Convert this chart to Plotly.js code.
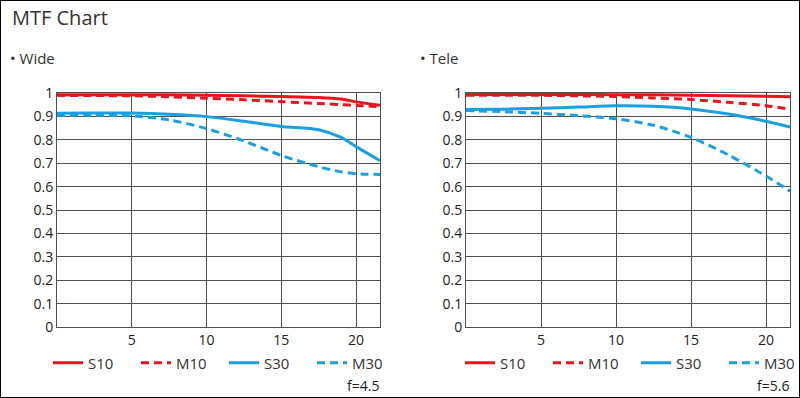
<!DOCTYPE html>
<html><head><meta charset="utf-8">
<script src="https://cdn.plot.ly/plotly-3.0.1.min.js"></script>
<style>html,body{margin:0;padding:0;background:#fff;overflow:hidden}#chart{width:800px;height:398px}</style>
</head><body><div id="chart"></div>
<script>
// Wide (f=4.5)
const wideX = [0, 2.5, 5, 7.5, 10, 12.5, 15, 17.5, 19, 20, 21.6];
const wideS10 = [0.993, 0.993, 0.993, 0.992, 0.99, 0.988, 0.985, 0.981, 0.974, 0.962, 0.948];
const wideM10 = [0.99, 0.989, 0.988, 0.984, 0.978, 0.971, 0.963, 0.955, 0.95, 0.947, 0.942];
const wideS30 = [0.913, 0.914, 0.914, 0.909, 0.899, 0.879, 0.857, 0.843, 0.81, 0.771, 0.711];
const wideM30 = [0.905, 0.905, 0.902, 0.885, 0.848, 0.795, 0.733, 0.685, 0.663, 0.655, 0.652];
// Tele (f=5.6)
const teleX = [0, 2.5, 5, 7.5, 10, 12.5, 15, 17.5, 20, 21.6];
const teleS10 = [0.994, 0.994, 0.994, 0.994, 0.993, 0.992, 0.99, 0.988, 0.986, 0.984];
const teleM10 = [0.99, 0.99, 0.99, 0.988, 0.985, 0.979, 0.972, 0.96, 0.946, 0.93];
const teleS30 = [0.929, 0.931, 0.935, 0.94, 0.945, 0.943, 0.932, 0.91, 0.879, 0.855];
const teleM30 = [0.925, 0.92, 0.913, 0.903, 0.89, 0.862, 0.81, 0.735, 0.645, 0.58];

const seriesNames = ['S10', 'M10', 'S30', 'M30'];
const yTickVals = [0, 0.1, 0.2, 0.3, 0.4, 0.5, 0.6, 0.7, 0.8, 0.9, 1];
const yTickText = ['0', '0.1', '0.2', '0.3', '0.4', '0.5', '0.6', '0.7', '0.8', '0.9', '1'];
const xTickVals = [5, 10, 15, 20];

const RED = '#e8141c', BLUE = '#1a9fe0';
const styles = [
  {color: RED, dash: 'solid'},
  {color: RED, dash: '8px,5px'},
  {color: BLUE, dash: 'solid'},
  {color: BLUE, dash: '8px,5px'}
];

function makeTraces(x, ys, xa, ya, legend) {
  return ys.map((y, i) => ({
    x: x, y: y, name: seriesNames[i], type: 'scatter', mode: 'lines',
    xaxis: xa, yaxis: ya, legend: legend,
    line: {color: styles[i].color, dash: styles[i].dash, width: 3, shape: 'spline', smoothing: 0.8},
    hoverinfo: 'skip'
  }));
}

const data = [
  ...makeTraces(wideX, [wideS10, wideM10, wideS30, wideM30], 'x', 'y', 'legend'),
  ...makeTraces(teleX, [teleS10, teleM10, teleS30, teleM30], 'x2', 'y2', 'legend2')
];

const gridC = '#505050';
const font = {family: '"Open Sans", "Noto Sans", sans-serif', size: 14, color: '#333'};
function xaxis(domain, anchor) {
  return {domain: domain, anchor: anchor, range: [0, 21.6], tickvals: xTickVals, ticktext: xTickVals.map(String),
    showgrid: true, gridcolor: gridC, gridwidth: 1, showline: true, linecolor: gridC, linewidth: 1, mirror: true,
    zeroline: false, ticks: '', ticklen: 0, tickfont: {size: 14, color: '#222'}, fixedrange: true};
}
function yaxis(domain, anchor) {
  return {domain: domain, anchor: anchor, range: [0, 1], tickvals: yTickVals, ticktext: yTickText,
    showgrid: true, gridcolor: gridC, gridwidth: 1, showline: true, linecolor: gridC, linewidth: 1, mirror: true,
    zeroline: false, ticks: '', tickfont: {size: 14, color: '#222'}, fixedrange: true};
}
const yDom = [1 - 327/398, 1 - 93/398];
const legendCommon = {orientation: 'h', yanchor: 'middle', xanchor: 'left', y: 1 - 363/398,
  font: {size: 15, color: '#333'}, entrywidth: 43, entrywidthmode: 'pixels', bgcolor: 'rgba(0,0,0,0)',
  itemclick: false, itemdoubleclick: false, tracegroupgap: 0};

const layout = {
  width: 800, height: 398,
  margin: {l: 0, r: 0, t: 0, b: 0, autoexpand: false},
  paper_bgcolor: '#fff', plot_bgcolor: '#fff',
  font: font,
  showlegend: true,
  xaxis: xaxis([57/800, 380/800], 'y'),
  yaxis: yaxis(yDom, 'x'),
  xaxis2: xaxis([466/800, 790/800], 'y2'),
  yaxis2: yaxis(yDom, 'x2'),
  legend: Object.assign({}, legendCommon, {x: 48/800}),
  legend2: Object.assign({}, legendCommon, {x: 460/800}),
  annotations: [
    {text: 'MTF Chart', xref: 'paper', yref: 'paper', x: 10/800, y: 1 - 17/398, xanchor: 'left', yanchor: 'middle', showarrow: false, font: {size: 20, color: '#333'}},
    {text: '• Wide', xref: 'paper', yref: 'paper', x: 8/800, y: 1 - 58/398, xanchor: 'left', yanchor: 'middle', showarrow: false, font: {size: 15, color: '#333'}},
    {text: '• Tele', xref: 'paper', yref: 'paper', x: 418/800, y: 1 - 58/398, xanchor: 'left', yanchor: 'middle', showarrow: false, font: {size: 15, color: '#333'}},
    {text: 'f=4.5', xref: 'paper', yref: 'paper', x: 381/800, y: 1 - 385/398, xanchor: 'right', yanchor: 'middle', showarrow: false, font: {size: 14, color: '#222'}},
    {text: 'f=5.6', xref: 'paper', yref: 'paper', x: 791/800, y: 1 - 385/398, xanchor: 'right', yanchor: 'middle', showarrow: false, font: {size: 14, color: '#222'}}
  ],
  shapes: [
    {type: 'rect', xref: 'paper', yref: 'paper', x0: 0, x1: 1, y0: 0, y1: 1, line: {color: '#000', width: 2}, layer: 'above'}
  ]
};

Plotly.newPlot('chart', data, layout, {staticPlot: true, displayModeBar: false});
</script>
</body></html>
